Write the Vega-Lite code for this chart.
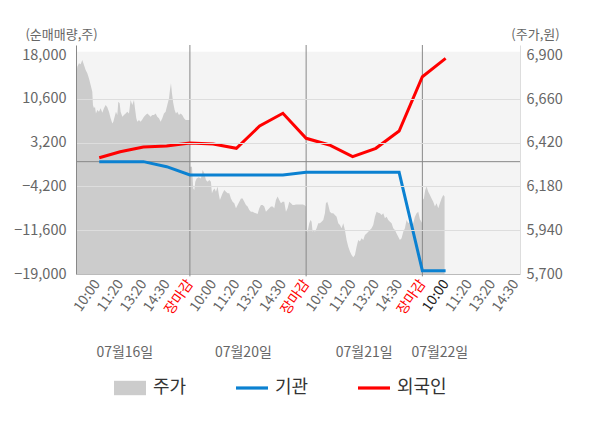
{
  "$schema": "https://vega.github.io/schema/vega-lite/v6.json",
  "width": 444,
  "height": 229,
  "autosize": "none",
  "padding": {"left": 76, "top": 45, "right": 80, "bottom": 154},
  "config": {
    "font": "Noto Sans CJK KR",
    "view": {"stroke": null},
    "axisX": {"labelOverlap": false}
  },
  "datasets": {
    "price": [
      {"u": 0.10, "p": 6783}, {"u": 0.156, "p": 6838}, {"u": 0.228, "p": 6857}, {"u": 0.30, "p": 6852},
      {"u": 0.371, "p": 6875}, {"u": 0.443, "p": 6847}, {"u": 0.515, "p": 6820}, {"u": 0.586, "p": 6802},
      {"u": 0.658, "p": 6774}, {"u": 0.730, "p": 6738}, {"u": 0.801, "p": 6701}, {"u": 0.830, "p": 6628},
      {"u": 0.873, "p": 6610}, {"u": 0.916, "p": 6619}, {"u": 0.959, "p": 6582}, {"u": 1.017, "p": 6600},
      {"u": 1.088, "p": 6591}, {"u": 1.160, "p": 6610}, {"u": 1.232, "p": 6586}, {"u": 1.303, "p": 6610},
      {"u": 1.375, "p": 6628}, {"u": 1.447, "p": 6615}, {"u": 1.518, "p": 6591}, {"u": 1.590, "p": 6555},
      {"u": 1.662, "p": 6527}, {"u": 1.705, "p": 6536}, {"u": 1.762, "p": 6564}, {"u": 1.819, "p": 6591},
      {"u": 1.877, "p": 6573}, {"u": 1.920, "p": 6646}, {"u": 1.977, "p": 6637}, {"u": 2.020, "p": 6591},
      {"u": 2.092, "p": 6564}, {"u": 2.163, "p": 6573}, {"u": 2.235, "p": 6582}, {"u": 2.307, "p": 6591},
      {"u": 2.378, "p": 6582}, {"u": 2.450, "p": 6655}, {"u": 2.522, "p": 6628}, {"u": 2.594, "p": 6655},
      {"u": 2.637, "p": 6610}, {"u": 2.694, "p": 6555}, {"u": 2.737, "p": 6536}, {"u": 2.809, "p": 6546},
      {"u": 2.880, "p": 6536}, {"u": 2.952, "p": 6549}, {"u": 3.024, "p": 6564}, {"u": 3.095, "p": 6573},
      {"u": 3.167, "p": 6582}, {"u": 3.239, "p": 6573}, {"u": 3.310, "p": 6564}, {"u": 3.382, "p": 6573},
      {"u": 3.454, "p": 6573}, {"u": 3.525, "p": 6582}, {"u": 3.597, "p": 6564}, {"u": 3.669, "p": 6555},
      {"u": 3.740, "p": 6536}, {"u": 3.812, "p": 6555}, {"u": 3.884, "p": 6582}, {"u": 3.955, "p": 6591},
      {"u": 4.027, "p": 6628}, {"u": 4.099, "p": 6664}, {"u": 4.142, "p": 6710}, {"u": 4.185, "p": 6747},
      {"u": 4.228, "p": 6692}, {"u": 4.285, "p": 6637}, {"u": 4.343, "p": 6600}, {"u": 4.400, "p": 6582},
      {"u": 4.457, "p": 6591}, {"u": 4.529, "p": 6573}, {"u": 4.601, "p": 6582}, {"u": 4.672, "p": 6573},
      {"u": 4.744, "p": 6555}, {"u": 4.816, "p": 6546}, {"u": 4.887, "p": 6546}, {"u": 4.990, "p": 6546},
      {"u": 5.000, "p": 6289}, {"u": 5.088, "p": 6289}, {"u": 5.145, "p": 6170}, {"u": 5.188, "p": 6161},
      {"u": 5.231, "p": 6207}, {"u": 5.289, "p": 6225}, {"u": 5.375, "p": 6231}, {"u": 5.475, "p": 6225},
      {"u": 5.547, "p": 6271}, {"u": 5.619, "p": 6253}, {"u": 5.690, "p": 6216}, {"u": 5.762, "p": 6207},
      {"u": 5.834, "p": 6216}, {"u": 5.905, "p": 6207}, {"u": 5.948, "p": 6143}, {"u": 6.006, "p": 6161},
      {"u": 6.063, "p": 6170}, {"u": 6.120, "p": 6152}, {"u": 6.192, "p": 6180}, {"u": 6.235, "p": 6143},
      {"u": 6.292, "p": 6106}, {"u": 6.350, "p": 6125}, {"u": 6.407, "p": 6143}, {"u": 6.479, "p": 6161},
      {"u": 6.550, "p": 6152}, {"u": 6.622, "p": 6143}, {"u": 6.694, "p": 6143}, {"u": 6.765, "p": 6115},
      {"u": 6.837, "p": 6097}, {"u": 6.909, "p": 6088}, {"u": 6.981, "p": 6061}, {"u": 7.052, "p": 6079},
      {"u": 7.124, "p": 6097}, {"u": 7.196, "p": 6115}, {"u": 7.267, "p": 6115}, {"u": 7.339, "p": 6097},
      {"u": 7.411, "p": 6079}, {"u": 7.482, "p": 6070}, {"u": 7.554, "p": 6051}, {"u": 7.626, "p": 6042},
      {"u": 7.697, "p": 6042}, {"u": 7.769, "p": 6037}, {"u": 7.841, "p": 6033}, {"u": 7.912, "p": 6029},
      {"u": 7.984, "p": 6061}, {"u": 8.056, "p": 6079}, {"u": 8.127, "p": 6079}, {"u": 8.199, "p": 6070},
      {"u": 8.271, "p": 6042}, {"u": 8.342, "p": 6051}, {"u": 8.414, "p": 6061}, {"u": 8.486, "p": 6070},
      {"u": 8.558, "p": 6070}, {"u": 8.629, "p": 6061}, {"u": 8.701, "p": 6106}, {"u": 8.773, "p": 6125},
      {"u": 8.844, "p": 6106}, {"u": 8.916, "p": 6088}, {"u": 8.988, "p": 6097}, {"u": 9.059, "p": 6097},
      {"u": 9.131, "p": 6042}, {"u": 9.203, "p": 6061}, {"u": 9.274, "p": 6097}, {"u": 9.346, "p": 6088},
      {"u": 9.418, "p": 6079}, {"u": 9.490, "p": 6079}, {"u": 9.561, "p": 6082}, {"u": 9.705, "p": 6082},
      {"u": 9.848, "p": 6082}, {"u": 9.920, "p": 6079}, {"u": 9.990, "p": 6070},
      {"u": 10.000, "p": 5932}, {"u": 10.048, "p": 5932}, {"u": 10.091, "p": 5951}, {"u": 10.134, "p": 5978},
      {"u": 10.192, "p": 5996}, {"u": 10.235, "p": 5987}, {"u": 10.278, "p": 5932}, {"u": 10.335, "p": 5942},
      {"u": 10.378, "p": 5932}, {"u": 10.450, "p": 5951}, {"u": 10.522, "p": 5978}, {"u": 10.593, "p": 5978},
      {"u": 10.665, "p": 5987}, {"u": 10.737, "p": 5996}, {"u": 10.808, "p": 6033}, {"u": 10.851, "p": 6088},
      {"u": 10.909, "p": 6097}, {"u": 10.952, "p": 6079}, {"u": 11.023, "p": 6042}, {"u": 11.095, "p": 6033},
      {"u": 11.167, "p": 6033}, {"u": 11.238, "p": 6024}, {"u": 11.310, "p": 6015}, {"u": 11.382, "p": 5978},
      {"u": 11.453, "p": 5969}, {"u": 11.525, "p": 5951}, {"u": 11.597, "p": 5978}, {"u": 11.669, "p": 5942},
      {"u": 11.740, "p": 5887}, {"u": 11.812, "p": 5850}, {"u": 11.884, "p": 5823}, {"u": 11.955, "p": 5804},
      {"u": 12.027, "p": 5792}, {"u": 12.099, "p": 5804}, {"u": 12.170, "p": 5850}, {"u": 12.242, "p": 5887},
      {"u": 12.314, "p": 5878}, {"u": 12.385, "p": 5896}, {"u": 12.457, "p": 5887}, {"u": 12.529, "p": 5914},
      {"u": 12.600, "p": 5923}, {"u": 12.672, "p": 5932}, {"u": 12.744, "p": 5942}, {"u": 12.815, "p": 5951},
      {"u": 12.887, "p": 5969}, {"u": 12.959, "p": 6015}, {"u": 13.031, "p": 6042}, {"u": 13.102, "p": 6037},
      {"u": 13.174, "p": 6033}, {"u": 13.246, "p": 6024}, {"u": 13.317, "p": 6033}, {"u": 13.389, "p": 6006},
      {"u": 13.461, "p": 6015}, {"u": 13.532, "p": 5996}, {"u": 13.604, "p": 5987}, {"u": 13.676, "p": 5978},
      {"u": 13.747, "p": 5951}, {"u": 13.819, "p": 5942}, {"u": 13.891, "p": 5923}, {"u": 13.962, "p": 5905},
      {"u": 14.034, "p": 5887}, {"u": 14.106, "p": 5896}, {"u": 14.178, "p": 5932}, {"u": 14.249, "p": 5951},
      {"u": 14.321, "p": 5996}, {"u": 14.393, "p": 5978}, {"u": 14.464, "p": 5987}, {"u": 14.536, "p": 5969},
      {"u": 14.608, "p": 5978}, {"u": 14.679, "p": 6015}, {"u": 14.751, "p": 6033}, {"u": 14.823, "p": 6042},
      {"u": 14.894, "p": 6000}, {"u": 14.990, "p": 5980},
      {"u": 15.009, "p": 6106}, {"u": 15.066, "p": 6115}, {"u": 15.124, "p": 6161}, {"u": 15.181, "p": 6180},
      {"u": 15.253, "p": 6152}, {"u": 15.325, "p": 6134}, {"u": 15.396, "p": 6115}, {"u": 15.468, "p": 6097},
      {"u": 15.540, "p": 6070}, {"u": 15.611, "p": 6088}, {"u": 15.683, "p": 6061}, {"u": 15.755, "p": 6088},
      {"u": 15.826, "p": 6115}, {"u": 15.898, "p": 6134}, {"u": 15.955, "p": 6125}
    ],
    "flow": [
      {"u": 1.1, "s": "외국인", "v": 669}, {"u": 2, "s": "외국인", "v": 1683}, {"u": 3, "s": "외국인", "v": 2478},
      {"u": 4, "s": "외국인", "v": 2647}, {"u": 5, "s": "외국인", "v": 3150}, {"u": 6, "s": "외국인", "v": 2986},
      {"u": 7, "s": "외국인", "v": 2258}, {"u": 8, "s": "외국인", "v": 6030}, {"u": 9, "s": "외국인", "v": 8178},
      {"u": 10, "s": "외국인", "v": 3950}, {"u": 11, "s": "외국인", "v": 2817}, {"u": 12, "s": "외국인", "v": 838},
      {"u": 13, "s": "외국인", "v": 2258}, {"u": 14, "s": "외국인", "v": 5184}, {"u": 15, "s": "외국인", "v": 14367},
      {"u": 16, "s": "외국인", "v": 17479},
      {"u": 1.1, "s": "기관", "v": 0}, {"u": 2, "s": "기관", "v": 0}, {"u": 3, "s": "기관", "v": 0},
      {"u": 4, "s": "기관", "v": -854}, {"u": 5, "s": "기관", "v": -2257}, {"u": 6, "s": "기관", "v": -2257},
      {"u": 7, "s": "기관", "v": -2257}, {"u": 8, "s": "기관", "v": -2257}, {"u": 9, "s": "기관", "v": -2257},
      {"u": 10, "s": "기관", "v": -1800}, {"u": 11, "s": "기관", "v": -1800}, {"u": 12, "s": "기관", "v": -1800},
      {"u": 13, "s": "기관", "v": -1800}, {"u": 14, "s": "기관", "v": -1800}, {"u": 15, "s": "기관", "v": -18442},
      {"u": 16, "s": "기관", "v": -18442}
    ],
    "days": [
      {"d": "07월16일", "u": 2.2}, {"d": "07월20일", "u": 7.3},
      {"d": "07월21일", "u": 12.5}, {"d": "07월22일", "u": 15.75}
    ],
    "bounds": [{"b": 5}, {"b": 10}, {"b": 15}]
  },
  "layer": [
    {
      "data": {"values": [{}]},
      "mark": {"type": "rect", "color": "#f4f4f4"},
      "encoding": {
        "x": {"datum": 0.1, "type": "quantitative", "scale": {"domain": [0.1, 19.2], "nice": false, "zero": false}},
        "x2": {"datum": 19.2},
        "y": {"datum": 18600, "type": "quantitative", "scale": {"domain": [-19000, 19730], "nice": false, "zero": false}, "axis": null},
        "y2": {"datum": -19000}
      }
    },
    {
      "data": {"name": "price"},
      "mark": {"type": "area", "opacity": 1},
      "encoding": {
        "x": {"field": "u", "type": "quantitative", "scale": {"domain": [0.1, 19.2], "nice": false, "zero": false}},
        "y": {
          "field": "p", "type": "quantitative",
          "scale": {"domain": [5700, 6957.5], "nice": false, "zero": false},
          "axis": {
            "orient": "right", "values": [5700, 5940, 6180, 6420, 6660, 6900], "format": ",.0f",
            "ticks": false, "grid": false, "domainColor": "#dddddd", "labelPadding": 6,
            "labelFontSize": 14.5, "labelColor": "#666666", "labelFlush": false,
            "title": "(주가,원)", "titleAngle": 0, "titleX": 15, "titleY": -11,
            "titleAlign": "center", "titleBaseline": "middle", "titleFontWeight": "normal",
            "titleFontSize": 13, "titleColor": "#666666"
          }
        },
        "y2": {"datum": 5700},
        "color": {
          "datum": "주가", "type": "nominal",
          "scale": {"domain": ["주가", "기관", "외국인"], "range": ["#cccccc", "#0b81d1", "#ff0000"]}
        }
      }
    },
    {
      "layer": [
        {
          "data": {"values": [{}]},
          "mark": {"type": "rule", "color": "#888888", "strokeWidth": 1},
          "encoding": {
            "y": {
              "datum": 0, "type": "quantitative",
              "scale": {"domain": [-19000, 19730], "nice": false, "zero": false},
              "axis": {
                "orient": "left", "values": [-19000, -11600, -4200, 3200, 10600, 18000], "format": ",.0f",
                "ticks": false, "labelPadding": 10, "labelFontSize": 14.5, "labelColor": "#666666",
                "labelFlush": false, "domainColor": "#888888", "grid": true, "zindex": 1,
                "gridColor": {"condition": {"test": "datum.value === 18000 || datum.value === -19000", "value": "transparent"}, "value": "#dddddd"},
                "title": "(순매매량,주)", "titleAngle": 0, "titleX": -15, "titleY": -11,
                "titleAlign": "center", "titleBaseline": "middle", "titleFontWeight": "normal",
                "titleFontSize": 13, "titleColor": "#666666"
              }
            }
          }
        },
        {
          "data": {"name": "bounds"},
          "mark": {"type": "rule", "color": "#888888", "strokeWidth": 1},
          "encoding": {
            "x": {"field": "b", "type": "quantitative", "scale": {"domain": [0.1, 19.2], "nice": false, "zero": false}},
            "y": {"datum": -19400, "type": "quantitative"},
            "y2": {"datum": 19730}
          }
        },
        {
          "data": {"name": "flow"},
          "mark": {"type": "line", "strokeWidth": 3},
          "encoding": {
            "x": {
              "field": "u", "type": "quantitative",
              "scale": {"domain": [0.1, 19.2], "nice": false, "zero": false},
              "axis": {
                "values": [1, 2, 3, 4, 5, 6, 7, 8, 9, 10, 11, 12, 13, 14, 15, 16, 17, 18, 19],
                "tickCount": 40,
                "labelExpr": "datum.value % 5 === 0 ? '장마감' : ['', '10:00', '11:20', '13:20', '14:30'][datum.value % 5]",
                "labelAngle": -55, "labelFontSize": 14, "labelPadding": 7,
                "labelColor": {"condition": [{"test": "datum.value % 5 === 0", "value": "#ff0000"}, {"test": "datum.value === 16", "value": "#222222"}], "value": "#666666"},
                "labelOverlap": false, "labelFlush": false, "labelBound": false,
                "ticks": false, "grid": false, "domainColor": "#bbbbbb", "title": null
              }
            },
            "y": {"field": "v", "type": "quantitative"},
            "color": {
              "field": "s", "type": "nominal",
              "scale": {"domain": ["주가", "기관", "외국인"], "range": ["#cccccc", "#0b81d1", "#ff0000"]},
              "legend": {
                "orient": "none", "legendX": 38, "legendY": 327, "direction": "horizontal", "title": null,
                "symbolType": "M-1,-0.45H1V0.45H-1Z", "symbolSize": 1024, "symbolStrokeWidth": 0,
                "labelFontSize": 18, "labelColor": "#333333", "labelOffset": 7,
                "columnPadding": 33, "gridAlign": "all",
                "encode": {
                  "symbols": {
                    "update": {
                      "shape": {"signal": "datum.value === '주가' ? 'M-1,-0.45H1V0.45H-1Z' : 'M-1,-0.1H1V0.1H-1Z'"},
                      "fill": {"scale": "color", "field": "value"},
                      "strokeWidth": {"value": 0}
                    }
                  }
                }
              }
            }
          }
        },
        {
          "data": {"name": "days"},
          "mark": {"type": "text", "fontSize": 14, "color": "#666666", "baseline": "middle"},
          "encoding": {
            "x": {"field": "u", "type": "quantitative", "scale": {"domain": [0.1, 19.2], "nice": false, "zero": false}},
            "y": {"datum": -32360, "type": "quantitative"},
            "text": {"field": "d"}
          }
        }
      ]
    }
  ],
  "resolve": {"scale": {"y": "independent"}}
}
